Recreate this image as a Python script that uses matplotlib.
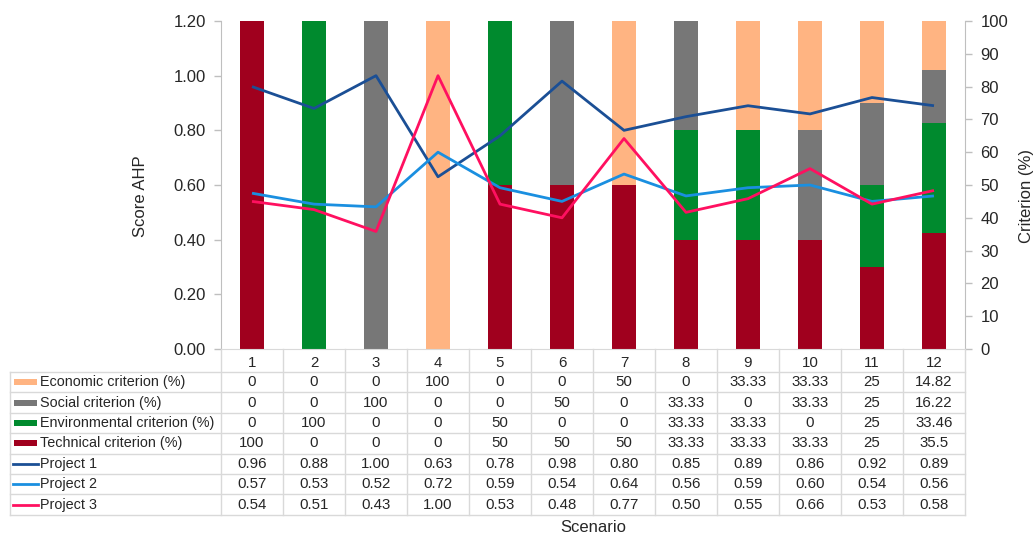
import matplotlib
matplotlib.use("Agg")
import matplotlib.pyplot as plt
import matplotlib.transforms as mtransforms
from matplotlib.patches import Rectangle
from matplotlib.lines import Line2D
import numpy as np

plt.rcParams['font.family'] = ['Liberation Sans', 'DejaVu Sans']

scenarios = ["1", "2", "3", "4", "5", "6", "7", "8", "9", "10", "11", "12"]
technical = [100, 0, 0, 0, 50, 50, 50, 33.33, 33.33, 33.33, 25, 35.5]
environmental = [0, 100, 0, 0, 50, 0, 0, 33.33, 33.33, 0, 25, 33.46]
social = [0, 0, 100, 0, 0, 50, 0, 33.33, 0, 33.33, 25, 16.22]
economic = [0, 0, 0, 100, 0, 0, 50, 0, 33.33, 33.33, 25, 14.82]
project1 = [0.96, 0.88, 1.00, 0.63, 0.78, 0.98, 0.80, 0.85, 0.89, 0.86, 0.92, 0.89]
project2 = [0.57, 0.53, 0.52, 0.72, 0.59, 0.54, 0.64, 0.56, 0.59, 0.60, 0.54, 0.56]
project3 = [0.54, 0.51, 0.43, 1.00, 0.53, 0.48, 0.77, 0.50, 0.55, 0.66, 0.53, 0.58]

c_tech = "#A0001E"
c_env = "#008A2E"
c_soc = "#777777"
c_eco = "#FFB482"
c_p1 = "#1B4F95"
c_p2 = "#1A8FE0"
c_p3 = "#FF1060"
grid_c = "#D9D9D9"
spine_c = "#BFBFBF"
txt_c = "#262626"

W, H = 1035, 535
fig = plt.figure(figsize=(W / 100, H / 100), dpi=100)

def fx(p):
    return p / W

def fy(p):
    return 1 - p / H

left_px, right_px, top_px, bot_px = 221, 965, 21, 349
ax_w = fx(right_px) - fx(left_px)
ax = fig.add_axes([fx(left_px), fy(bot_px), ax_w, fy(top_px) - fy(bot_px)])
ax2 = ax.twinx()

x = np.arange(1, len(scenarios) + 1)

# bars on secondary axis
bw = 0.4
bottom = np.zeros(len(x))
for vals, col in [(technical, c_tech), (environmental, c_env), (social, c_soc), (economic, c_eco)]:
    v = np.array(vals, dtype=float)
    ax2.bar(x, v, bw, bottom=bottom, color=col, linewidth=0)
    bottom += v
ax2.set_ylim(0, 100)
ax2.set_yticks(np.arange(0, 101, 10))

# lines on primary axis
for vals, col in [(project1, c_p1), (project2, c_p2), (project3, c_p3)]:
    ax.plot(x, vals, color=col, lw=2.0, solid_capstyle='butt')
ax.set_ylim(0, 1.2)
ax.set_yticks(np.arange(0, 1.21, 0.2))
ax.set_yticklabels([f"{v:.2f}" for v in np.arange(0, 1.21, 0.2)])
ax.set_xlim(0.5, len(x) + 0.5)
ax.set_zorder(ax2.get_zorder() + 1)
ax.patch.set_visible(False)

for a in (ax, ax2):
    for s in a.spines.values():
        s.set_visible(False)
    a.tick_params(axis='y', colors=spine_c, labelcolor=txt_c, labelsize=12, length=5, width=1, pad=6)
ax.spines['left'].set_visible(True)
ax.spines['left'].set_color(spine_c)
ax2.spines['right'].set_visible(True)
ax2.spines['right'].set_color(spine_c)
ax.spines['bottom'].set_visible(True)
ax.spines['bottom'].set_color(grid_c)
ax.set_xticks(x)
ax.set_xticklabels(scenarios)
ax.tick_params(axis='x', length=0, labelsize=10.8, labelcolor=txt_c, pad=5)

ax.set_ylabel("Score AHP", fontsize=12, color=txt_c)
ax2.set_ylabel("Criterion (%)", fontsize=12, color=txt_c)
label_y = (bot_px - 196) / (bot_px - top_px)
ax.yaxis.set_label_coords((148 - left_px) / (right_px - left_px), label_y)
ax2.yaxis.set_label_coords((1019 - left_px) / (right_px - left_px), label_y)

# data table below the plot
bt = mtransforms.blended_transform_factory(ax.transData, fig.transFigure)
rows = [
    ("Economic criterion (%)", economic, 'bar', c_eco),
    ("Social criterion (%)", social, 'bar', c_soc),
    ("Environmental criterion (%)", environmental, 'bar', c_env),
    ("Technical criterion (%)", technical, 'bar', c_tech),
    ("Project 1", project1, 'line', c_p1),
    ("Project 2", project2, 'line', c_p2),
    ("Project 3", project3, 'line', c_p3),
]

def fmt(v, kind):
    if kind == 'line':
        return f"{v:.2f}"
    return f"{v:g}"

table_left = 10
row_top = 372
row_h = 20.4
n = len(rows)
table_bottom = row_top + n * row_h

# horizontal lines
for i in range(n + 1):
    yy = fy(row_top + i * row_h)
    fig.add_artist(Line2D([fx(table_left), fx(right_px)], [yy, yy], color=grid_c, lw=1))
# vertical lines
fig.add_artist(Line2D([fx(table_left), fx(table_left)], [fy(row_top), fy(table_bottom)], color=grid_c, lw=1))
for k in range(len(x) + 1):
    xb = 0.5 + k
    fig.add_artist(Line2D([xb, xb], [fy(bot_px), fy(table_bottom)], color=grid_c, lw=1, transform=bt))

for i, (label, vals, kind, col) in enumerate(rows):
    yc = fy(row_top + (i + 0.5) * row_h)
    if kind == 'bar':
        fig.add_artist(Rectangle((fx(14), yc - 3 / H), fx(37) - fx(14), 6 / H,
                                 color=col, lw=0))
    else:
        fig.add_artist(Line2D([fx(13), fx(38)], [yc, yc], color=col, lw=2.0))
    fig.text(fx(40), yc, label, ha='left', va='center', fontsize=10.4, color=txt_c)
    for xi, v in zip(x, vals):
        fig.text(xi, yc, fmt(v, kind), ha='center', va='center', fontsize=10.8,
                 color=txt_c, transform=bt)

fig.text((fx(left_px) + fx(right_px)) / 2, fy(527), "Scenario", ha='center', va='center',
         fontsize=12, color=txt_c)

fig.savefig("out.png", dpi=100)
